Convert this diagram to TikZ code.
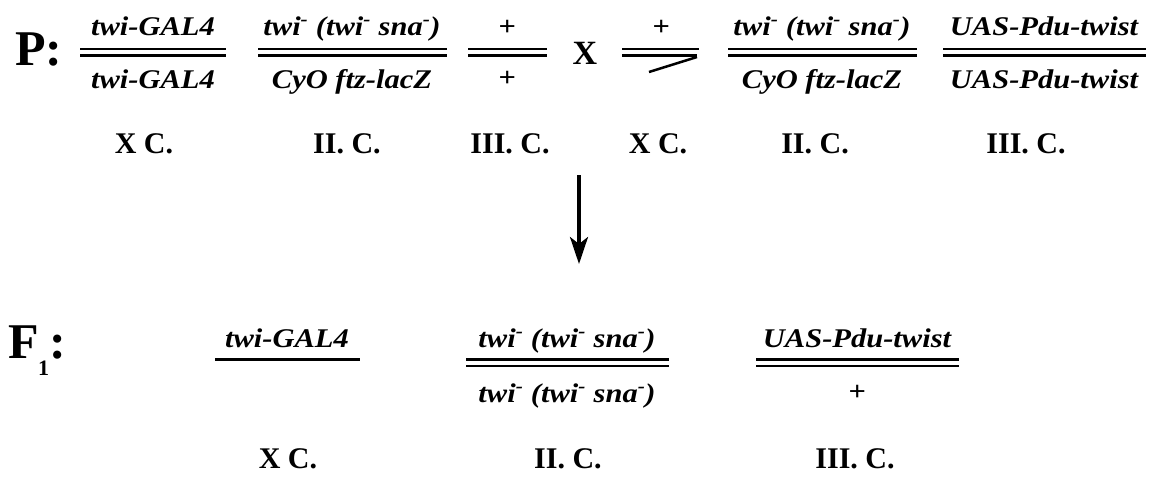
\documentclass[tikz,border=0pt]{standalone}
\usepackage{fontspec}
\setmainfont{Liberation Serif}
\newfontfamily\genefont{Liberation Serif}[FakeStretch=1.13]
\usetikzlibrary{arrows.meta}
\newcommand\sm{\textsuperscript{-}}
\begin{document}
\begin{tikzpicture}[x=1pt,y=-1pt,
  gene/.style={font=\genefont\bfseries\itshape\fontsize{27}{30}\selectfont, inner sep=0pt, anchor=base},
  lab/.style={font=\bfseries\fontsize{30}{34}\selectfont, inner sep=0pt, anchor=base},
  head/.style={font=\bfseries\fontsize{50}{56}\selectfont, inner sep=0pt, anchor=base west},
  chrom/.style={line width=2.8pt},
  arr/.style={line width=3.5pt, -{Stealth[length=27pt,width=18pt,inset=7pt]}}]
\useasboundingbox (0,0) rectangle (1149,479);
\newcommand\dbar[3]{\draw[chrom] (#1,#3) -- (#2,#3); \draw[chrom] (#1,#3+6.5) -- (#2,#3+6.5);}

% ---- parental row ----
\node[head] (P) at (15,65) {P:};

\dbar{80}{226}{49}
\node[gene] (t1) at (153,35) {twi-GAL4};
\node[gene] (b1) at (153,88) {twi-GAL4};

\dbar{258}{447}{49}
\node[gene] (t2) at (352,35) {twi\sm\ (twi\sm\ sna\sm)};
\node[gene] (b2) at (352,88) {CyO ftz-lacZ};

\dbar{468}{547}{49}
\node[gene] (t3) at (507,35) {+};
\node[gene] (b3) at (507,86) {+};

\node[font=\bfseries\fontsize{34}{36}\selectfont, inner sep=0pt, anchor=base] (cross) at (585,64) {X};

\draw[chrom] (622,49) -- (699,49);
\draw[chrom] (622,55.5) -- (697,55.5);
\draw[line width=2.5pt] (697,57) -- (649,72);
\node[gene] (t4) at (661,35) {+};

\dbar{728}{917}{49}
\node[gene] (t5) at (822,35) {twi\sm\ (twi\sm\ sna\sm)};
\node[gene] (b5) at (822,88) {CyO ftz-lacZ};

\dbar{943}{1146}{49}
\node[gene] (t6) at (1044,35) {UAS-Pdu-twist};
\node[gene] (b6) at (1044,88) {UAS-Pdu-twist};

\node[lab] (l1) at (144,153) {X C.};
\node[lab] (l2) at (347,153) {II. C.};
\node[lab] (l3) at (510,153) {III. C.};
\node[lab] (l4) at (658,153) {X C.};
\node[lab] (l5) at (815,153) {II. C.};
\node[lab] (l6) at (1026,153) {III. C.};

% ---- arrow ----
\coordinate (a1) at (579,175);
\coordinate (a2) at (579,264);
\draw[arr] (a1) -- (a2);

% ---- F1 row ----
\node[head] (F) at (8,358) {F};
\node[font=\bfseries\fontsize{22}{24}\selectfont, inner sep=0pt, anchor=base west] (Fsub) at (38,375) {1};
\node[head] (Fcol) at (49,358) {:};

\draw[chrom] (215,359.5) -- (360,359.5);
\node[gene] (f1t) at (287,347) {twi-GAL4};

\dbar{466}{669}{359.5}
\node[gene] (f2t) at (567,347) {twi\sm\ (twi\sm\ sna\sm)};
\node[gene] (f2b) at (567,402) {twi\sm\ (twi\sm\ sna\sm)};

\dbar{756}{959}{359.5}
\node[gene] (f3t) at (857,347) {UAS-Pdu-twist};
\node[gene] (f3b) at (857,400) {+};

\node[lab] (g1) at (288,468) {X C.};
\node[lab] (g2) at (568,468) {II. C.};
\node[lab] (g3) at (855,468) {III. C.};
\end{tikzpicture}
\end{document}
